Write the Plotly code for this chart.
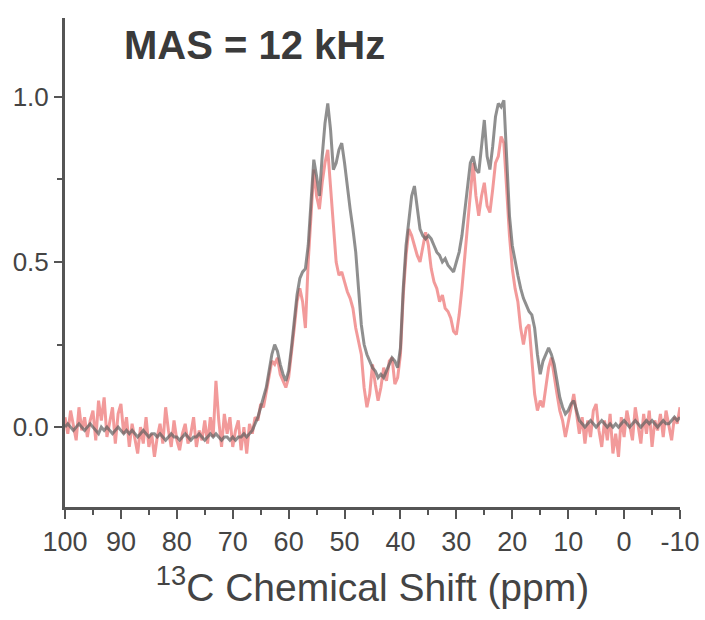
import numpy as np
import plotly.graph_objects as go

# chemical shift grid (ppm), 0.5 ppm spacing from 100 down to -10
ppm_start = 100.0
ppm_step = 0.5

gray_intensity = [
    # 100 -> 66
    0.00, 0.01, 0.00, -0.01, 0.00, 0.01, 0.00, -0.01, 0.00, 0.01,
    0.00, -0.01, -0.02, 0.00, -0.01, 0.00, -0.01, -0.02, -0.01, 0.00,
    -0.01, -0.02, -0.01, -0.02, -0.01, -0.02, -0.03, -0.02, -0.01, -0.02,
    -0.03, -0.02, -0.02, -0.03, -0.02, -0.03, -0.04, -0.03, -0.02, -0.03,
    -0.03, -0.04, -0.03, -0.02, -0.03, -0.04, -0.03, -0.03, -0.02, -0.03,
    -0.04, -0.03, -0.02, -0.03, -0.02, -0.03, -0.04, -0.03, -0.03, -0.04,
    -0.03, -0.04, -0.03, -0.03, -0.02, -0.03, -0.02, -0.01, 0.01,
    # 65.5 -> 40
    0.03, 0.06, 0.09, 0.12, 0.17, 0.22, 0.25, 0.23, 0.19, 0.16,
    0.14, 0.17, 0.24, 0.32, 0.40, 0.45, 0.47, 0.48, 0.55, 0.68,
    0.81, 0.76, 0.70, 0.82, 0.92, 0.98, 0.90, 0.78, 0.80, 0.84,
    0.86, 0.80, 0.72, 0.66, 0.60, 0.53, 0.42, 0.31, 0.25, 0.22,
    0.20, 0.18, 0.17, 0.15, 0.16, 0.15, 0.17, 0.19, 0.21, 0.20,
    0.18, 0.24,
    # 39.5 -> 15
    0.42, 0.55, 0.62, 0.70, 0.73, 0.66, 0.60, 0.58, 0.57, 0.58,
    0.57, 0.55, 0.53, 0.52, 0.50, 0.51, 0.49, 0.48, 0.47, 0.50,
    0.53, 0.58, 0.66, 0.73, 0.80, 0.82, 0.78, 0.77, 0.86, 0.93,
    0.82, 0.78, 0.85, 0.94, 0.98, 0.97, 0.99, 0.80, 0.64, 0.55,
    0.50, 0.46, 0.42, 0.39, 0.37, 0.35, 0.34, 0.30, 0.22, 0.16,
    # 14.5 -> -10
    0.20, 0.22, 0.24, 0.22, 0.19, 0.14, 0.09, 0.06, 0.04, 0.05,
    0.07, 0.08, 0.05, 0.02, 0.01, 0.00, 0.01, 0.02, 0.01, 0.00,
    0.01, 0.02, 0.01, 0.00, 0.01, 0.00, 0.01, 0.00, 0.01, 0.02,
    0.01, 0.00, 0.01, 0.02, 0.01, 0.00, 0.01, 0.02, 0.01, 0.02,
    0.01, 0.00, 0.01, 0.02, 0.01, 0.01, 0.02, 0.03, 0.02, 0.03,
]

red_intensity = [
    # 100 -> 66
    0.03, -0.02, 0.05, 0.00, -0.04, 0.06, -0.01, 0.03, -0.03, 0.02,
    0.05, -0.04, 0.08, 0.02, 0.09, -0.03, 0.01, 0.06, -0.05, 0.04,
    0.07, -0.02, 0.03, -0.06, 0.01, -0.04, -0.08, 0.00, -0.05, 0.03,
    -0.06, -0.02, -0.09, -0.03, 0.01, -0.05, 0.06, -0.01, -0.06, 0.02,
    -0.04, -0.07, -0.02, 0.01, -0.05, -0.02, 0.03, -0.06, -0.01, -0.04,
    0.02, -0.05, 0.03, -0.03, 0.14, 0.02, -0.06, 0.04, -0.02, 0.03,
    -0.06, -0.01, 0.02, -0.07, 0.00, -0.08, 0.01, -0.02, 0.03,
    # 65.5 -> 40
    0.02, 0.07, 0.06, 0.11, 0.16, 0.20, 0.19, 0.21, 0.16, 0.14,
    0.12, 0.15, 0.22, 0.30, 0.38, 0.42, 0.38, 0.30, 0.50, 0.66,
    0.78, 0.70, 0.66, 0.74, 0.80, 0.84, 0.72, 0.62, 0.50, 0.46,
    0.47, 0.44, 0.41, 0.39, 0.36, 0.30, 0.26, 0.22, 0.12, 0.06,
    0.10, 0.19, 0.13, 0.08, 0.12, 0.18, 0.14, 0.20, 0.21, 0.13,
    0.15, 0.22,
    # 39.5 -> 15
    0.40, 0.52, 0.60, 0.58, 0.55, 0.52, 0.50, 0.54, 0.59, 0.55,
    0.48, 0.44, 0.42, 0.38, 0.40, 0.36, 0.35, 0.33, 0.29, 0.28,
    0.34, 0.42, 0.52, 0.60, 0.72, 0.80, 0.70, 0.64, 0.70, 0.74,
    0.67, 0.65, 0.72, 0.80, 0.82, 0.88, 0.86, 0.70, 0.58, 0.48,
    0.42, 0.38, 0.30, 0.25, 0.30, 0.31, 0.20, 0.10, 0.05, 0.08,
    # 14.5 -> -10
    0.06, 0.12, 0.18, 0.21, 0.15, 0.10, 0.05, 0.02, -0.03, 0.01,
    0.06, 0.10, 0.04, -0.02, 0.03, -0.05, 0.02, -0.03, 0.05, 0.07,
    -0.01, -0.06, 0.02, -0.04, 0.04, -0.08, -0.02, -0.09, 0.03, -0.03,
    0.05, 0.01, -0.04, 0.06, 0.00, -0.05, 0.04, -0.02, 0.05, -0.06,
    0.02, -0.01, 0.04, -0.03, 0.05, 0.00, -0.04, 0.03, 0.01, 0.06,
]

x_tick_vals = [100, 90, 80, 70, 60, 50, 40, 30, 20, 10, 0, -10]
x_tick_text = ["100", "90", "80", "70", "60", "50", "40", "30", "20", "10", "0", "-10"]
y_tick_vals = [0.0, 0.5, 1.0]
y_tick_text = ["0.0", "0.5", "1.0"]

ppm_gray = [ppm_start - ppm_step * i for i in range(len(gray_intensity))]
ppm_red = [ppm_start - ppm_step * i for i in range(len(red_intensity))]

fig = go.Figure()
fig.add_trace(go.Scatter(
    x=ppm_red, y=red_intensity, mode="lines",
    line=dict(color="rgba(238,120,120,0.75)", width=3),
    showlegend=False, hoverinfo="skip"))
fig.add_trace(go.Scatter(
    x=ppm_gray, y=gray_intensity, mode="lines",
    line=dict(color="rgba(95,95,95,0.7)", width=3),
    showlegend=False, hoverinfo="skip"))

axis_color = "#555555"
W, H = 705, 620
ml, mr, mt, mb = 65, 25, 18, 113
fig.update_layout(
    width=W, height=H,
    margin=dict(l=ml, r=mr, t=mt, b=mb),
    plot_bgcolor="white", paper_bgcolor="white",
    font=dict(family="Liberation Sans, Arial, sans-serif", color="#444444"),
    xaxis=dict(
        range=[100, -10], showgrid=False, zeroline=False, automargin=False,
        showline=True, linecolor=axis_color, linewidth=3,
        ticks="outside", ticklen=9, tickwidth=2, tickcolor=axis_color,
        tickvals=x_tick_vals, ticktext=x_tick_text,
        tickfont=dict(size=27, color="#444444"),
        ticklabeloverflow="allow",
        minor=dict(dtick=5, ticks="outside", ticklen=5, tickwidth=2, tickcolor=axis_color),
        title=dict(text="<sup>13</sup>C Chemical Shift (ppm)", font=dict(size=39, color="#444444"), standoff=18),
    ),
    yaxis=dict(
        range=[-0.242, 1.239], showgrid=False, zeroline=False, automargin=False,
        showline=True, linecolor=axis_color, linewidth=3,
        ticks="outside", ticklen=8, tickwidth=2, tickcolor=axis_color,
        tickvals=y_tick_vals, ticktext=y_tick_text,
        tickfont=dict(size=26, color="#444444"),
        minor=dict(tickvals=[0.25, 0.75], ticks="outside", ticklen=5, tickwidth=2, tickcolor=axis_color),
    ),
    annotations=[dict(
        text="<b>MAS = 12 kHz</b>", xref="paper", yref="paper",
        x=(254 - ml) / (W - ml - mr), y=1 - (45 - mt) / (H - mt - mb),
        xanchor="center", yanchor="middle",
        showarrow=False, font=dict(size=40, color="#3a3a3a"))],
)

page_style = ("document.documentElement.style.overflow='hidden';"
              "document.body.style.margin='0';"
              "document.body.style.overflow='hidden';")
fig.write_html("out.html", post_script=page_style, config={"displayModeBar": False})
